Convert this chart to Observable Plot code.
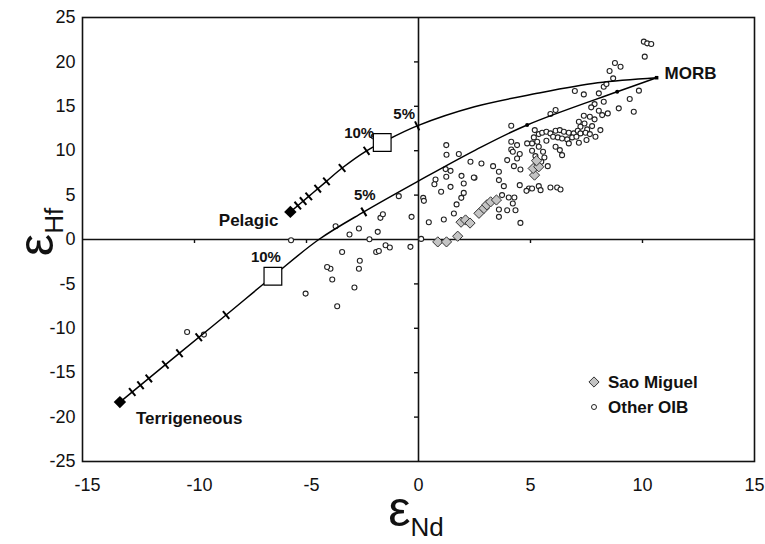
<!DOCTYPE html>
<html><head><meta charset="utf-8">
<script src="https://cdn.jsdelivr.net/npm/d3@7"></script>
<script src="https://cdn.jsdelivr.net/npm/@observablehq/plot@0.6"></script>
<style>
body{margin:0;background:#fff;}
#chart{width:765px;height:544px;}
</style></head><body><div id="chart"></div>
<script>
// ---- data ----
const xTicks = [-15, -10, -5, 0, 5, 10, 15];
const yTicks = [-25, -20, -15, -10, -5, 0, 5, 10, 15, 20, 25];
const zeroXTicks = [-10, -5, 5, 10];
const zeroYTicks = [-20, -15, -10, -5, 5, 10, 15, 20];

const endmemberNames = ["MORB", "Pelagic", "Terrigeneous"];
const endmemberPoints = [[10.63, 18.22], [-5.72, 3.11], [-13.33, -18.31]];

// mixing curves MORB–sediment
const pelagicCurve = [[-5.72,3.11],[-4.9,4.86],[-4.11,6.55],[-3.41,8.05],[-2.32,9.99],[-1.62,10.93],[-0.06,12.8],[2.5,14.95],[5.3,16.46],[8.0,17.65],[10.63,18.22]];
const terrigenousCurve = [[-13.33,-18.31],[-10.67,-12.8],[-8.59,-8.5],[-6.5,-4.14],[-4.45,0],[-2.44,3.11],[0.01,6.6],[2.54,10.07],[4.85,12.9],[8.87,16.64],[10.63,18.22]];

// tick marks along the curves (mixing increments)
const pelagicTicks = [[-5.39,3.82],[-5.15,4.33],[-4.9,4.86],[-4.5,5.72],[-4.11,6.55],[-3.41,8.05],[-2.32,9.99],[-0.06,12.8]];
const terrigenousTicks = [[-12.78,-17.17],[-12.41,-16.41],[-12.04,-15.64],[-11.3,-14.11],[-10.67,-12.8],[-9.81,-11.02],[-8.59,-8.5],[-2.44,3.11]];
const curveDots = [[4.85,12.9],[8.87,16.64]];

const pctLabels = ["10%", "5%", "10%", "5%"];
const pctPoints = [[-1.62,10.93],[-0.06,12.8],[-6.5,-4.14],[-2.44,3.11]];
const tenPctSquares = [[-1.62,10.93],[-6.5,-4.14]];

const saoMiguel = [[0.86,-0.27],[1.25,-0.27],[1.75,0.37],[1.9,1.95],[2.1,2.2],[2.3,1.85],[2.7,2.95],[2.92,3.5],[3.05,3.9],[3.22,4.24],[3.48,4.45],[5.18,7.25],[5.12,8.0],[5.37,8.19],[5.27,8.87]];

const otherOIB = [
[-3.7,1.5],[-3.08,0.56],[-2.66,1.24],[-2.19,0.03],[-1.82,0.86],[-1.7,2.44],[-1.59,2.85],[-0.88,4.88],[-0.31,2.55],[-3.41,-1.4],[-1.89,-1.4],[-1.77,-1.3],[-1.47,-0.64],[-1.28,-0.9],[-0.36,-0.83],[-2.62,-2.4],[-2.66,-3.3],[-3.93,-3.3],[-4.08,-3.1],[-3.85,-4.5],[-2.86,-5.4],[-5.04,-6.09],[-3.63,-7.52],[-5.69,-0.08],[-2.0,11.6],[-10.33,-10.42],[-9.58,-10.71],
[1.25,9.54],[1.8,9.62],[1.21,7.93],[1.43,7.73],[0.76,6.76],[0.71,6.23],[1.24,7.06],[1.92,7.17],[2.5,6.95],[1.43,5.93],[2.02,6.31],[1.01,5.37],[2.02,5.25],[1.91,4.69],[0.21,4.69],[0.24,4.35],[1.7,3.95],[1.58,2.93],[1.13,2.25],[0.46,1.95],[0.12,0.07],[1.24,10.63],
[10.06,22.28],[10.21,22.09],[10.39,22.02],[10.1,20.59],[8.77,19.87],[9.02,19.46],[8.53,18.97],[8.69,18.15],[4.55,1.87],[4.21,4.06],[4.33,3.3],[3.59,3.38],[3.96,3.3],[3.59,2.55],
[6.98,16.72],[7.38,16.34],[8.05,16.46],[8.27,17.21],[8.39,17.51],[9.84,16.76],[9.43,15.82],[8.94,14.77],[9.61,14.39],[8.27,15.52],[7.86,15.25],[7.71,14.88],[8.05,14.5],[8.45,14.2],[8.2,14.01],[5.89,14.13],[6.12,14.58],[4.14,12.81],[7.38,13.94],[7.65,13.83],[7.86,13.53],[7.16,13.26],[7.41,13.07],[7.23,12.7],[7.53,12.4],[7.75,12.77],[8.12,12.32],[5.19,12.32],[5.37,11.87],[5.15,11.5],[5.52,12.02],[5.71,12.14],[5.89,11.95],[6.12,12.25],[6.31,12.32],[6.49,12.14],[6.71,12.02],[6.93,11.95],[7.11,12.25],[7.23,11.95],[7.46,12.02],[7.65,11.87],[7.9,11.57],[6.01,11.57],[6.22,11.5],[6.41,11.38],[6.64,11.27],[6.86,11.5],[7.05,11.57],[5.71,11.12],[5.3,11.01],[5.07,10.82],[4.85,10.82],[6.71,10.82],[7.16,10.89],[7.5,11.2],[4.14,11.01],[4.4,10.63],[5.07,10.0],[5.37,10.44],[6.12,10.44],[6.31,10.07],[6.41,9.5],[4.14,10.14],[4.21,9.88],[4.52,9.62],[3.96,8.94],[4.4,9.13],[4.55,7.89],[4.26,8.26],[5.22,9.39],[5.56,9.88],[5.62,9.24],[5.77,8.26],[5.48,8.75],[2.32,8.75],[2.81,8.56],[3.33,8.26],[3.59,7.63],[2.47,6.99],[3.59,6.69],[3.81,6.01],[4.52,6.12],[4.93,5.75],[5.07,5.75],[4.82,5.48],[5.37,6.01],[5.45,5.56],[5.89,5.86],[6.19,5.86],[6.34,5.63],[3.73,5.0],[4.03,4.73],[4.28,4.73]
];

// ---- layout ----
const W = 765, H = 544, mL = 82, mR = 11, mT = 17, mB = 83;
const kx = (W - mL - mR) / (xTicks[xTicks.length-1] - xTicks[0]);
const ky = (H - mT - mB) / (yTicks[yTicks.length-1] - yTicks[0]);
const font = "'Liberation Sans', Arial, Helvetica, sans-serif";
const fmt = d => (d < 0 ? "-" + Math.abs(d) : String(d));

// short segments perpendicular to a curve
function perpTicks(ticks, curve, half) {
  return ticks.map(([x, y]) => {
    let i = 0;
    for (let j = 0; j < curve.length - 1; j++) {
      if (x >= curve[j][0] && x <= curve[j+1][0]) { i = j; break; }
    }
    const [x1, y1] = curve[i], [x2, y2] = curve[i+1];
    const sx = (x2 - x1) * kx, sy = -(y2 - y1) * ky;
    const n = Math.hypot(sx, sy);
    const px = -sy / n * half, py = sx / n * half;
    return {x1: x + px / kx, y1: y - py / ky, x2: x - px / kx, y2: y + py / ky};
  });
}
const tickSegs = perpTicks(pelagicTicks, pelagicCurve, 5).concat(perpTicks(terrigenousTicks, terrigenousCurve, 5));

const pctData = pctLabels.map((t, i) => ({t, x: pctPoints[i][0], y: pctPoints[i][1]}));
const ends = endmemberNames.map((n, i) => ({n, x: endmemberPoints[i][0], y: endmemberPoints[i][1]}));

const plot = Plot.plot({
  width: W, height: H, marginLeft: mL, marginRight: mR, marginTop: mT, marginBottom: mB,
  style: {fontFamily: font, fontSize: "18px", color: "#111", background: "#fff"},
  x: {domain: [xTicks[0], xTicks[xTicks.length-1]]},
  y: {domain: [yTicks[0], yTicks[yTicks.length-1]]},
  marks: [
    Plot.axisX(xTicks.filter(d => d < 0), {tickSize: 0, tickPadding: 17, tickFormat: fmt, dx: 5, label: null}),
    Plot.axisX(xTicks.filter(d => d >= 0), {tickSize: 0, tickPadding: 17, tickFormat: fmt, label: null}),
    Plot.axisY(yTicks, {tickSize: 0, tickPadding: 7, tickFormat: fmt, label: null}),
    Plot.ruleX([0], {stroke: "#111", strokeWidth: 1.6}),
    Plot.ruleY([0], {stroke: "#111", strokeWidth: 1.6}),
    Plot.ruleX(zeroXTicks, {x: d => d, y1: 0, y2: -4 / ky, stroke: "#111", strokeWidth: 1.4}),
    Plot.ruleY(zeroYTicks, {y: d => d, x1: 0, x2: -4 / kx, stroke: "#111", strokeWidth: 1.4}),
    Plot.dot(otherOIB, {x: d => d[0], y: d => d[1], r: 2.5, fill: "#fff", stroke: "#222", strokeWidth: 1.1}),
    Plot.line(pelagicCurve, {x: d => d[0], y: d => d[1], curve: "catmull-rom", stroke: "#000", strokeWidth: 1.5}),
    Plot.line(terrigenousCurve, {x: d => d[0], y: d => d[1], curve: "catmull-rom", stroke: "#000", strokeWidth: 1.5}),
    Plot.link(tickSegs, {x1: "x1", y1: "y1", x2: "x2", y2: "y2", stroke: "#000", strokeWidth: 2}),
    Plot.dot(curveDots, {x: d => d[0], y: d => d[1], r: 2, fill: "#000"}),
    Plot.dot(saoMiguel, {x: d => d[0], y: d => d[1], symbol: "diamond2", r: 4.6, fill: "#c4c4c4", stroke: "#333", strokeWidth: 1}),
    Plot.dot(tenPctSquares, {x: d => d[0], y: d => d[1], symbol: "square", r: 10, fill: "#fff", stroke: "#000", strokeWidth: 1.2}),
    Plot.dot(ends.slice(1), {x: "x", y: "y", symbol: "diamond2", r: 5.6, fill: "#000"}),
    Plot.dot(ends.slice(0, 1), {x: "x", y: "y", symbol: "square", r: 2, fill: "#000"}),
    Plot.frame({stroke: "#111", strokeWidth: 1.6}),
    // endmember labels
    Plot.text(ends.slice(0, 1), {x: "x", y: "y", text: "n", textAnchor: "start", dx: 8, dy: -4, fontWeight: "bold", fontSize: 17, fill: "#111"}),
    Plot.text(ends.slice(1, 2), {x: "x", y: "y", text: "n", textAnchor: "end", dx: -12, dy: 9, fontWeight: "bold", fontSize: 17, fill: "#111"}),
    Plot.text(ends.slice(2, 3), {x: "x", y: "y", text: "n", textAnchor: "start", dx: 16, dy: 16, fontWeight: "bold", fontSize: 17, fill: "#111"}),
    // percent labels
    Plot.text(pctData.slice(0, 1), {x: "x", y: "y", text: "t", textAnchor: "end", dx: -8, dy: -9, fontWeight: "bold", fontSize: 15, fill: "#111"}),
    Plot.text(pctData.slice(1, 2), {x: "x", y: "y", text: "t", dx: -13, dy: -12, fontWeight: "bold", fontSize: 15, fill: "#111"}),
    Plot.text(pctData.slice(2, 3), {x: "x", y: "y", text: "t", dx: -7, dy: -19, fontWeight: "bold", fontSize: 15, fill: "#111"}),
    Plot.text(pctData.slice(3, 4), {x: "x", y: "y", text: "t", dx: 1, dy: -17, fontWeight: "bold", fontSize: 15, fill: "#111"})
  ]
});

const svg = d3.select(plot);
// axis titles with subscripts
const xt = svg.append("text").attr("x", 416).attr("y", 526).attr("text-anchor", "middle")
  .attr("font-family", font).attr("font-size", 50).attr("fill", "#111").text("ε");
xt.append("tspan").attr("font-size", 26).attr("dy", 10).text("Nd");
const yt = svg.append("text").attr("transform", "translate(53,232) rotate(-90)").attr("text-anchor", "middle")
  .attr("font-family", font).attr("font-size", 50).attr("fill", "#111").text("ε");
yt.append("tspan").attr("font-size", 26).attr("dy", 10).text("Hf");

// legend
const lg = svg.append("g").attr("font-family", font).attr("font-size", 17).attr("font-weight", "bold")
  .attr("fill", "#111").attr("text-anchor", "start");
lg.append("path").attr("d", d3.symbol(d3.symbolDiamond2, Math.PI * 4.6 * 4.6)()).attr("transform", "translate(594,382)")
  .attr("fill", "#c4c4c4").attr("stroke", "#333");
lg.append("text").attr("x", 608).attr("y", 382).attr("dy", "0.35em").attr("text-anchor", "start").text("Sao Miguel");
lg.append("circle").attr("cx", 594).attr("cy", 407).attr("r", 2.5).attr("fill", "#fff").attr("stroke", "#222");
lg.append("text").attr("x", 608).attr("y", 407).attr("dy", "0.35em").attr("text-anchor", "start").text("Other OIB");

document.getElementById("chart").appendChild(plot);
</script>
</body></html>
